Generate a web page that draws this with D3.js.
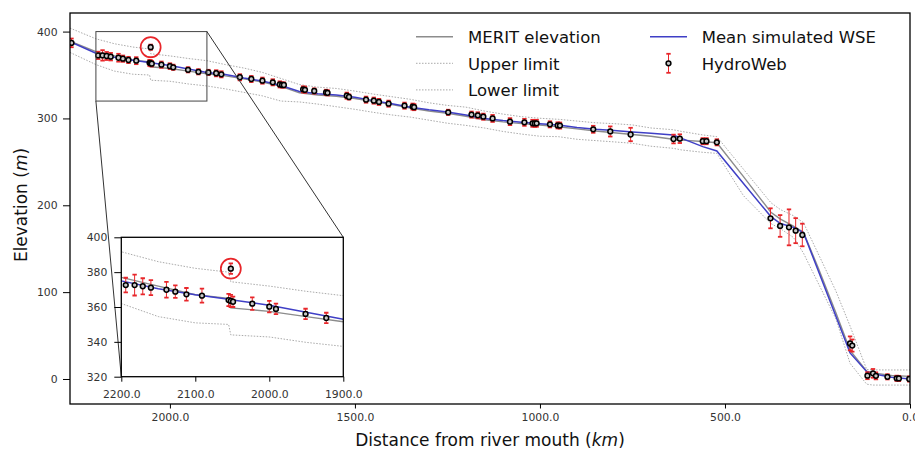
<!DOCTYPE html>
<html>
<head>
<meta charset="utf-8">
<script src="https://cdn.jsdelivr.net/npm/d3@7"></script>
<style>
body { margin: 0; background: #fff; }
text { font-family: "DejaVu Sans", sans-serif; }
</style>
</head>
<body>
<script>
// river profile nodes (km from mouth)
const profileKm = [2270, 2200, 2150, 2100, 2055, 2052, 2000, 1950, 1900, 1850, 1800, 1750, 1700, 1650, 1600, 1550, 1500, 1450, 1400, 1350, 1300, 1250, 1200, 1150, 1100, 1050, 1000, 950, 900, 850, 800, 750, 700, 640, 617, 560, 522, 450, 376, 350, 315, 288, 250, 200, 162, 117, 100, 50, 0];
const wseMean = [388.5, 375, 370.5, 367, 364.5, 364.2, 361, 357, 353, 350.5, 346.5, 343, 338, 331, 328.5, 327, 324.5, 320.5, 317, 313, 310, 307.5, 304, 300, 297.5, 295.5, 294, 292.5, 289.5, 287.5, 286, 284.5, 283, 281, 277, 267.5, 262.5, 225, 187, 179, 174.6, 168.5, 127, 72, 30, 8.4, 6, 2, 0];
const meritElev = [389, 377, 372, 367, 365, 359.5, 357.5, 354.5, 351.5, 349, 345.5, 342, 337, 329.5, 327, 325.5, 323, 319.5, 316, 312, 308.5, 306, 302.5, 298.5, 296, 294, 292.5, 290.5, 288, 285.5, 283.5, 281.5, 279.5, 276, 275, 273.5, 272, 233, 192, 184, 176, 169, 130, 76, 33, 9, 7, 4, 3];
const upperLimit = [404, 391.7, 386, 382.2, 380, 374.5, 372, 369, 366.5, 362, 358, 353, 346, 339, 336, 334.5, 331.5, 328, 325, 322, 318, 315, 313, 308.5, 305, 302, 300.2, 299, 297, 295, 294, 292.5, 289, 287, 285, 281, 279, 241.5, 203, 195, 188, 180, 146, 101, 61, 11, 10.5, 10.4, 10.4];
const lowerLimit = [376, 362, 354.5, 350.9, 350, 344, 342.8, 339.7, 337.4, 334, 330, 326, 320, 319, 316.5, 313.5, 310.5, 307, 304, 301.5, 298, 294.5, 292, 289, 285, 282, 279.5, 279, 276, 274.5, 273, 271.4, 268, 265.6, 263.7, 261, 259.8, 211, 179, 173, 163, 145, 112, 69, 18, -6, -7, -7, -7];

// HydroWeb virtual stations
const hwKm = [2266, 2194, 2182, 2171, 2160, 2139, 2127, 2112, 2091, 2055, 2052, 2049, 2023, 2000, 1991, 1951, 1923, 1896, 1875, 1861, 1811, 1780, 1750, 1722, 1703, 1697, 1692, 1640, 1635, 1610, 1578, 1574, 1522, 1516, 1470, 1449, 1435, 1409, 1366, 1344, 1340, 1248, 1185, 1168, 1153, 1128, 1081, 1042, 1020, 1014, 1009, 973, 952, 946, 856, 810, 755, 639, 622, 560, 550, 522, 377, 351, 327, 309, 291, 162, 156, 115, 100, 92, 61, 36, 30, 2];
const hwElev = [387, 372.6, 372.6, 371.9, 371.1, 369.9, 368.8, 367.3, 366.5, 364, 363.5, 363, 361.9, 360.2, 358.9, 356, 353.7, 353, 352, 350.8, 347.4, 345.4, 343.5, 341.6, 339.2, 338.5, 338.5, 333.5, 333, 331.6, 330, 329.5, 326.2, 324.7, 321.6, 320.5, 319, 317, 314.7, 313.6, 313, 307, 304.4, 303.6, 302, 300, 296.3, 295.5, 294.4, 294.2, 294.4, 293.2, 292, 291.8, 287.5, 285, 281.5, 276.3, 276.7, 273.8, 273.8, 272.5, 185, 176.2, 174.6, 170.8, 165.8, 41, 38.5, 3.8, 6.5, 3.6, 2.5, 0.8, 0.6, 0];
const hwErr = [5, 4.2, 6, 4.6, 4.3, 4.5, 3.6, 3.6, 4, 3.5, 3.5, 3, 3.6, 3.3, 3, 3, 3, 3, 3.5, 3.5, 3.5, 3.5, 3.5, 3.5, 3.5, 3, 3, 3.5, 3.5, 3, 3, 3, 3.5, 3, 3.5, 3.5, 3.5, 3.5, 3.5, 3.5, 3.5, 3, 3.5, 3.5, 3.5, 4, 4, 4, 4, 4, 4, 3.5, 3.5, 3.5, 4, 5.8, 7.7, 5, 5, 3.5, 3.5, 3.5, 11.5, 12.5, 20.7, 14.4, 13, 8, 7, 4, 5, 4, 3, 3, 3, 3];
// circled outlier: km, elevation, error
const outlierPoint = [2052, 382, 3];

const xTicks = [2000, 1500, 1000, 500, 0];
const yTicks = [0, 100, 200, 300, 400];
const insetXTicks = [2200, 2100, 2000, 1900];
const insetYTicks = [320, 340, 360, 380, 400];

const BLUE = "#3f3fc6", GRAY = "#8c8c8c", DOT = "#a0a0a0", RED = "#e8262a";

const svg = d3.select("body").append("svg")
    .attr("width", 915).attr("height", 451);

const x = d3.scaleLinear().domain([2270, 0]).range([70, 910]);
const y = d3.scaleLinear().domain([-28.8, 421.4]).range([404, 13]);

const xi = d3.scaleLinear().domain([2200, 1900]).range([121.3, 343.3]);
const yi = d3.scaleLinear().domain([320, 400]).range([376.7, 237.3]);

const defs = svg.append("defs");
defs.append("clipPath").attr("id", "clipMain").append("rect")
    .attr("x", 70).attr("y", 13).attr("width", 840).attr("height", 391);
defs.append("clipPath").attr("id", "clipInset").append("rect")
    .attr("x", 121.3).attr("y", 237.3).attr("width", 222).attr("height", 139.4);

function drawData(g, xs, ys) {
    const line = (vals) => d3.line()
        .x((d, i) => xs(profileKm[i]))
        .y(d => ys(d))(vals);

    g.append("path").attr("d", line(upperLimit)).attr("fill", "none")
        .attr("stroke", DOT).attr("stroke-width", 0.9).attr("stroke-dasharray", "1.5,1.5");
    g.append("path").attr("d", line(lowerLimit)).attr("fill", "none")
        .attr("stroke", DOT).attr("stroke-width", 0.9).attr("stroke-dasharray", "1.5,1.5");
    g.append("path").attr("d", line(meritElev)).attr("fill", "none")
        .attr("stroke", GRAY).attr("stroke-width", 1.4);
    g.append("path").attr("d", line(wseMean)).attr("fill", "none")
        .attr("stroke", BLUE).attr("stroke-width", 1.5);

    const pts = hwKm.map((k, i) => ({ km: k, elev: hwElev[i], err: hwErr[i] }));
    pts.push({ km: outlierPoint[0], elev: outlierPoint[1], err: outlierPoint[2] });

    const bars = g.append("g").attr("stroke", RED);
    pts.forEach(d => {
        const cx = xs(d.km), y0 = ys(d.elev + d.err), y1 = ys(d.elev - d.err);
        bars.append("line").attr("x1", cx).attr("x2", cx).attr("y1", y0).attr("y2", y1)
            .attr("stroke-width", 1);
        bars.append("line").attr("x1", cx - 2.2).attr("x2", cx + 2.2).attr("y1", y0).attr("y2", y0)
            .attr("stroke-width", 1.8);
        bars.append("line").attr("x1", cx - 2.2).attr("x2", cx + 2.2).attr("y1", y1).attr("y2", y1)
            .attr("stroke-width", 1.8);
    });

    g.selectAll("circle.hw")
        .data(pts)
        .join("circle")
        .attr("class", "hw")
        .attr("cx", d => xs(d.km))
        .attr("cy", d => ys(d.elev))
        .attr("r", 2.4)
        .attr("fill", "#c8c8c8")
        .attr("stroke", "#000")
        .attr("stroke-width", 1.5);

    g.append("circle")
        .attr("cx", xs(outlierPoint[0])).attr("cy", ys(outlierPoint[1]))
        .attr("r", 10).attr("fill", "none").attr("stroke", RED).attr("stroke-width", 1.7);
}

// main plot
const main = svg.append("g").attr("clip-path", "url(#clipMain)");
drawData(main, x, y);

// zoom box and connectors
svg.append("rect")
    .attr("x", x(2200)).attr("y", y(400))
    .attr("width", x(1900) - x(2200)).attr("height", y(320) - y(400))
    .attr("fill", "none").attr("stroke", "#444").attr("stroke-width", 1);
svg.append("line")
    .attr("x1", x(1900)).attr("y1", y(400)).attr("x2", xi(1900)).attr("y2", yi(400))
    .attr("stroke", "#333").attr("stroke-width", 1);
svg.append("line")
    .attr("x1", x(2200)).attr("y1", y(320)).attr("x2", xi(2200)).attr("y2", yi(320))
    .attr("stroke", "#333").attr("stroke-width", 1);

// main axes
function styleAxis(g, fs) {
    g.select(".domain").remove();
    g.selectAll(".tick line").attr("stroke", "#000").attr("stroke-width", 1);
    g.selectAll(".tick text").attr("fill", "#333").style("font-size", fs + "px")
        .style("font-family", "'DejaVu Sans', sans-serif");
}

svg.append("g").attr("transform", "translate(0,404)")
    .call(d3.axisBottom(x).tickValues(xTicks).tickFormat(d3.format(".1f")).tickSize(4.5).tickPadding(4.5))
    .call(g => styleAxis(g, 10.8));
svg.append("g").attr("transform", "translate(70,0)")
    .call(d3.axisLeft(y).tickValues(yTicks).tickSize(7).tickPadding(5.5))
    .call(g => styleAxis(g, 10.8));

svg.append("rect").attr("x", 70).attr("y", 13).attr("width", 840).attr("height", 391)
    .attr("fill", "none").attr("stroke", "#000").attr("stroke-width", 1.3);

svg.append("text")
    .attr("transform", "translate(27,205) rotate(-90)")
    .attr("text-anchor", "middle")
    .style("font-size", "17px").attr("fill", "#111")
    .html("Elevation (<tspan font-style='italic'>m</tspan>)");
svg.append("text")
    .attr("x", 490).attr("y", 446)
    .attr("text-anchor", "middle")
    .style("font-size", "17px").attr("fill", "#111")
    .html("Distance from river mouth (<tspan font-style='italic'>km</tspan>)");

// inset
svg.append("rect").attr("x", 121.3).attr("y", 237.3).attr("width", 222).attr("height", 139.4)
    .attr("fill", "#fff");
const inset = svg.append("g").attr("clip-path", "url(#clipInset)");
drawData(inset, xi, yi);

svg.append("g").attr("transform", "translate(0,376.7)")
    .call(d3.axisBottom(xi).tickValues(insetXTicks).tickFormat(d3.format(".1f")).tickSize(5).tickPadding(8.5))
    .call(g => styleAxis(g, 10.8));
svg.append("g").attr("transform", "translate(121.3,0)")
    .call(d3.axisLeft(yi).tickValues(insetYTicks).tickSize(7).tickPadding(7))
    .call(g => styleAxis(g, 10.8));
svg.append("rect").attr("x", 121.3).attr("y", 237.3).attr("width", 222).attr("height", 139.4)
    .attr("fill", "none").attr("stroke", "#000").attr("stroke-width", 1.3);

// legend
const legendLeft = [
    { label: "MERIT elevation", color: GRAY, dash: null, w: 1.4 },
    { label: "Upper limit", color: DOT, dash: "1.5,1.5", w: 0.9 },
    { label: "Lower limit", color: DOT, dash: "1.5,1.5", w: 0.9 }
];
const legend = svg.append("g");
legendLeft.forEach((d, i) => {
    const ly = 36.7 + i * 26.6;
    legend.append("line").attr("x1", 416).attr("x2", 453).attr("y1", ly).attr("y2", ly)
        .attr("stroke", d.color).attr("stroke-width", d.w).attr("stroke-dasharray", d.dash);
    legend.append("text").attr("x", 468).attr("y", ly + 6.5)
        .style("font-size", "16.5px").attr("fill", "#111").text(d.label);
});
legend.append("line").attr("x1", 650).attr("x2", 687).attr("y1", 36.7).attr("y2", 36.7)
    .attr("stroke", BLUE).attr("stroke-width", 1.5);
legend.append("text").attr("x", 701.7).attr("y", 43.2)
    .style("font-size", "16.5px").attr("fill", "#111").text("Mean simulated WSE");
const hx = 668.5, hy = 63.3;
legend.append("line").attr("x1", hx).attr("x2", hx).attr("y1", hy - 9.5).attr("y2", hy + 9.5)
    .attr("stroke", RED).attr("stroke-width", 1);
[hy - 9.5, hy + 9.5].forEach(cy => legend.append("line")
    .attr("x1", hx - 2.2).attr("x2", hx + 2.2).attr("y1", cy).attr("y2", cy)
    .attr("stroke", RED).attr("stroke-width", 1.8));
legend.append("circle").attr("cx", hx).attr("cy", hy).attr("r", 2.4)
    .attr("fill", "#c8c8c8").attr("stroke", "#000").attr("stroke-width", 1.5);
legend.append("text").attr("x", 701.7).attr("y", 69.8)
    .style("font-size", "16.5px").attr("fill", "#111").text("HydroWeb");
</script>
</body>
</html>
